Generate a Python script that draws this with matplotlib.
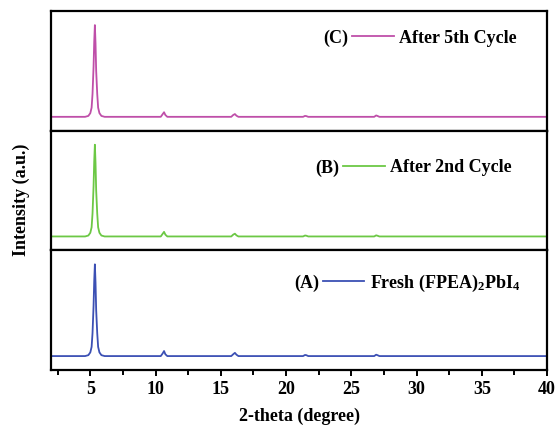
import numpy as np
import matplotlib
matplotlib.use('Agg')
import matplotlib.pyplot as plt
from matplotlib.ticker import MultipleLocator

plt.rcParams['font.family'] = 'Liberation Serif'
plt.rcParams['font.weight'] = 'bold'
plt.rcParams['mathtext.default'] = 'regular'

# 2-theta points (deg)
two_theta = [2.0, 4.6, 4.85, 5.0, 5.1, 5.17, 5.25, 5.3, 5.35, 5.4, 5.45,
             5.53, 5.6, 5.7, 5.85, 6.1, 10.4, 10.55, 10.65, 10.75, 10.9,
             15.8, 15.95, 16.08, 16.2, 16.35, 21.3, 21.45, 21.55, 21.7,
             26.75, 26.9, 27.0, 27.15, 40.0]

# normalised intensity, one list per sample
fresh = [0.0, 0.0, 0.01, 0.04, 0.1, 0.25, 0.55, 0.82, 1.0, 0.8, 0.5,
         0.25, 0.1, 0.04, 0.01, 0.0, 0.0, 0.03, 0.055, 0.02, 0.0,
         0.0, 0.02, 0.035, 0.015, 0.0, 0.0, 0.012, 0.01, 0.0,
         0.0, 0.015, 0.01, 0.0, 0.0]
cycle2 = [0.0, 0.0, 0.01, 0.04, 0.1, 0.25, 0.55, 0.82, 1.0, 0.8, 0.5,
          0.25, 0.1, 0.04, 0.01, 0.0, 0.0, 0.03, 0.05, 0.02, 0.0,
          0.0, 0.02, 0.03, 0.012, 0.0, 0.0, 0.01, 0.008, 0.0,
          0.0, 0.012, 0.008, 0.0, 0.0]
cycle5 = [0.0, 0.0, 0.01, 0.04, 0.1, 0.25, 0.55, 0.82, 1.0, 0.8, 0.5,
          0.25, 0.1, 0.04, 0.01, 0.0, 0.0, 0.03, 0.05, 0.02, 0.0,
          0.0, 0.02, 0.03, 0.012, 0.0, 0.0, 0.01, 0.008, 0.0,
          0.0, 0.015, 0.01, 0.0, 0.0]

tags = ['(C)', '(B)', '(A)']
labels = ['After 5th Cycle', 'After 2nd Cycle', r'Fresh (FPEA)$_2$PbI$_4$']
series = [cycle5, cycle2, fresh]
colores = ['#bf4fa9', '#6cc845', '#3c50b4']
# legend anchor (axes fraction)
leg_pos = [(0.607, 0.775), (0.589, 0.69), (0.548, 0.725)]

fs = 13

fig, axs = plt.subplots(3, 1, figsize=(5.56, 4.29), dpi=100, sharex=True)
fig.subplots_adjust(left=0.092, right=0.984, bottom=0.1375, top=0.974,
                    hspace=0)

for ax, yv, c, tag, lab, pos in zip(axs, series, colores, tags, labels,
                                    leg_pos):
    ax.plot(two_theta, yv, color=c, lw=1.3, label=lab)
    ax.set_xlim(2, 40)
    ax.set_ylim(-0.152, 1.152)
    ax.set_yticks([])
    for sp in ax.spines.values():
        sp.set_linewidth(1.6)
    leg = ax.legend(loc='center left', bbox_to_anchor=pos, frameon=False,
                    borderpad=0, borderaxespad=0, handlelength=2.3,
                    handletextpad=0.3, fontsize=fs)
    ax.text(pos[0] - 0.008, pos[1], tag, transform=ax.transAxes,
            ha='right', va='center', fontsize=fs, fontweight='bold')
    ax.tick_params(axis='x', which='both', bottom=False, labelbottom=False)

ax = axs[-1]
ax.xaxis.set_major_locator(MultipleLocator(5))
ax.xaxis.set_minor_locator(MultipleLocator(2.5))
ax.tick_params(axis='x', which='both', bottom=True, labelbottom=True,
               direction='out', width=1.4, labelsize=fs)
ax.tick_params(axis='x', which='major', length=4.5)
ax.tick_params(axis='x', which='minor', length=3.5)
ax.set_xlabel('2-theta (degree)', fontsize=fs, fontweight='bold',
              labelpad=7)
fig.text(0.038, 0.535, 'Intensity (a.u.)', rotation=90, ha='center',
         va='center', fontsize=fs, fontweight='bold')

plt.savefig('out.png', dpi=100)
